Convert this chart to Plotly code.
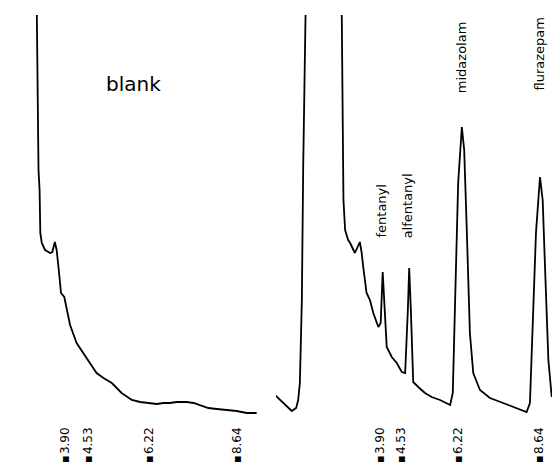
import plotly.graph_objects as go

# Retention-time markers (minutes) shown under each chromatogram
retention_times = [3.90, 4.53, 6.22, 8.64]
retention_labels = ["3.90", "4.53", "6.22", "8.64"]

# Blank chromatogram (time in min, detector signal in arbitrary units)
blank_time = [3.10, 3.14, 3.17, 3.20, 3.21, 3.22, 3.26, 3.35, 3.49, 3.55,
              3.62, 3.67, 3.72, 3.79, 3.88, 3.95, 4.04, 4.22, 4.40, 4.59,
              4.77, 4.96, 5.19, 5.46, 5.74, 5.97, 6.24, 6.43, 6.61, 6.79,
              6.98, 7.25, 7.44, 7.62, 7.85, 8.08, 8.36, 8.63, 8.91, 9.18]
blank_signal = [480, 315, 245, 225, 200, 182, 172, 165, 162, 163,
                173, 165, 148, 122, 118, 105, 90, 72, 62, 52,
                42, 37, 32, 22, 15, 13, 12, 11, 12, 12,
                13, 13, 12, 10, 7, 6, 5, 4, 2, 2]

# Spiked sample chromatogram
sample_time = [0.77, 1.01, 1.27, 1.40, 1.46, 1.51, 1.57, 1.61, 1.66, 1.71,
               2.23, 2.76, 2.81, 2.86, 2.95, 3.01, 3.15, 3.30, 3.35, 3.40,
               3.50, 3.60, 3.70, 3.85, 3.92, 3.98, 4.03, 4.10, 4.25, 4.40,
               4.55, 4.65, 4.73, 4.77, 4.82, 4.89, 5.04, 5.24, 5.44, 5.69,
               5.99, 6.07, 6.14, 6.23, 6.34, 6.41, 6.49, 6.58, 6.68, 6.88,
               7.18, 7.58, 7.93, 8.27, 8.37, 8.45, 8.55, 8.67, 8.75, 8.82,
               8.92, 9.02]
sample_signal = [20, 12, 4, 7, 15, 32, 115, 248, 332, 400,
                 1600, 400, 215, 185, 175, 172, 162, 173, 163, 148,
                 122, 115, 102, 88, 92, 143, 115, 68, 58, 52,
                 43, 42, 105, 147, 105, 33, 28, 22, 18, 15,
                 10, 22, 115, 232, 288, 265, 182, 82, 42, 25,
                 17, 12, 7, 3, 12, 88, 182, 238, 215, 148,
                 55, 18]

peak_names = ["fentanyl", "alfentanyl", "midazolam", "flurazepam"]
peak_label_time = [3.93, 4.73, 6.32, 8.67]
peak_label_base = [175, 175, 320, 323]

FONT = "DejaVu Sans"

fig = go.Figure()
fig.add_trace(go.Scatter(x=blank_time, y=blank_signal, mode="lines",
                         line=dict(color="black", width=1.8),
                         xaxis="x", yaxis="y", showlegend=False))
fig.add_trace(go.Scatter(x=sample_time, y=sample_signal, mode="lines",
                         line=dict(color="black", width=1.8),
                         xaxis="x2", yaxis="y", showlegend=False))

tick_text = ["\u25aa\u200a" + s for s in retention_labels]
axis_common = dict(showgrid=False, zeroline=False, showline=False, ticks="",
                   tickvals=retention_times, ticktext=tick_text, tickangle=-90,
                   tickfont=dict(family=FONT, size=12, color="black"),
                   ticklabelstandoff=9, fixedrange=True)
fig.update_layout(
    width=552, height=462,
    margin=dict(l=0, r=0, t=15, b=47),
    paper_bgcolor="white", plot_bgcolor="white",
    xaxis=dict(domain=[0, 0.5], range=[2.109, 9.714], anchor="y", **axis_common),
    xaxis2=dict(domain=[0.5, 1], range=[0.799, 9.028], anchor="y", **axis_common),
    yaxis=dict(range=[0, 400], visible=False, fixedrange=True),
)

fig.add_annotation(x=5.80, y=331, xref="x", yref="y", text="blank",
                   showarrow=False, font=dict(family=FONT, size=20, color="black"))
for name, t, base in zip(peak_names, peak_label_time, peak_label_base):
    fig.add_annotation(x=t, y=base, xref="x2", yref="y", text=name,
                       textangle=-90, showarrow=False, xanchor="center",
                       yanchor="bottom",
                       font=dict(family=FONT, size=13, color="black"))

fig.write_html("out.html", config={"displayModeBar": False},
               post_script="document.body.style.margin='0';"
                           "document.body.style.overflow='hidden';")
